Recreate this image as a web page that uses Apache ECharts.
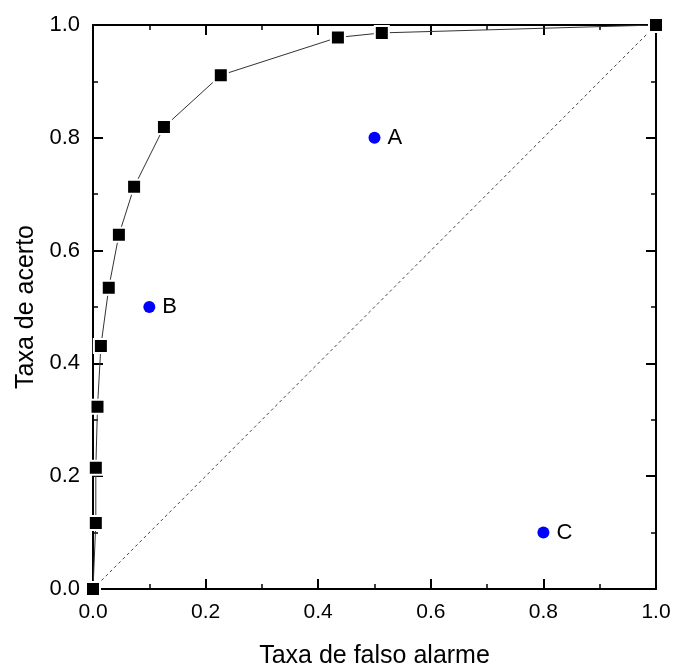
<!DOCTYPE html>
<html>
<head>
<meta charset="utf-8">
<script src="https://cdn.jsdelivr.net/npm/echarts@6/dist/echarts.min.js"></script>
<style>
	html, body { margin: 0; padding: 0; background: #fff; }
	#main { width: 676px; height: 668px; }
</style>
</head>
<body>
<div id="main"></div>
<script>
	// curva ROC (taxa de falso alarme, taxa de acerto)
	const rocX = [0, 0.005, 0.005, 0.008, 0.014, 0.028, 0.046, 0.073, 0.126, 0.227, 0.435, 0.513, 1.0];
	const rocY = [0, 0.117, 0.215, 0.323, 0.431, 0.534, 0.628, 0.713, 0.819, 0.911, 0.978, 0.986, 1.0];
	// pontos A, B, C
	const ptNames = ['A', 'B', 'C'];
	const ptX = [0.5, 0.1, 0.8];
	const ptY = [0.8, 0.5, 0.1];
	const diagX = [0, 1];
	const diagY = [0, 1];

	const font = 'Liberation Sans, Arial, sans-serif';

	const baseAxis = {
		min: 0, max: 1, interval: 0.2,
		axisLine: { show: true, onZero: false, lineStyle: { color: '#000', width: 2 } },
		axisTick: { show: true, inside: true, length: 10, lineStyle: { color: '#000', width: 2 } },
		minorTick: { show: true, splitNumber: 2, length: 5, lineStyle: { color: '#000', width: 1.5 } },
		splitLine: { show: false },
	}

	let option = {
		backgroundColor: '#fff',
		animation: false,
		grid: { left: 93, right: 20, top: 25, bottom: 79, outerBoundsMode: 'none', containLabel: false },
		xAxis: [
			Object.assign({}, baseAxis, {
				type: 'value', position: 'bottom',
				name: 'Taxa de falso alarme', nameLocation: 'middle', nameGap: 55,
				nameTextStyle: { fontFamily: font, fontSize: 25, color: '#000' },
				axisLabel: { fontFamily: font, fontSize: 21, color: '#000', margin: 13,
					formatter: v => v.toFixed(1) },
			}),
			Object.assign({}, baseAxis, {
				type: 'value', position: 'top', axisLabel: { show: false },
			}),
		],
		yAxis: [
			Object.assign({}, baseAxis, {
				type: 'value', position: 'left',
				name: 'Taxa de acerto', nameLocation: 'middle', nameGap: 54,
				nameTextStyle: { fontFamily: font, fontSize: 25, color: '#000' },
				axisLabel: { fontFamily: font, fontSize: 22, color: '#000', margin: 13,
					formatter: v => v.toFixed(1) },
			}),
			Object.assign({}, baseAxis, {
				type: 'value', position: 'right', axisLabel: { show: false },
			}),
		],
		series: [
			{
				name: 'diagonal',
				type: 'line',
				data: diagX.map((x, i) => [x, diagY[i]]),
				symbol: 'none',
				lineStyle: { color: '#444', width: 1, type: [3, 3] },
				z: 1,
			},
			{
				name: 'ROC',
				type: 'line',
				data: rocX.map((x, i) => [x, rocY[i]]),
				symbol: 'rect',
				symbolSize: 14,
				itemStyle: { color: '#000', borderColor: '#fff', borderWidth: 2 },
				lineStyle: { color: '#333', width: 1 },
				z: 3,
			},
			{
				name: 'pontos',
				type: 'scatter',
				data: ptX.map((x, i) => ({ value: [x, ptY[i]], name: ptNames[i] })),
				symbolSize: 12,
				itemStyle: { color: '#0000ff', opacity: 1 },
				label: {
					show: true, position: 'right', distance: 7,
					formatter: p => p.name,
					fontFamily: font, fontSize: 22, color: '#000',
				},
				z: 4,
			},
		],
	}

	const myChart = echarts.init(document.getElementById('main'))
	myChart.setOption(option)
</script>
</body>
</html>
